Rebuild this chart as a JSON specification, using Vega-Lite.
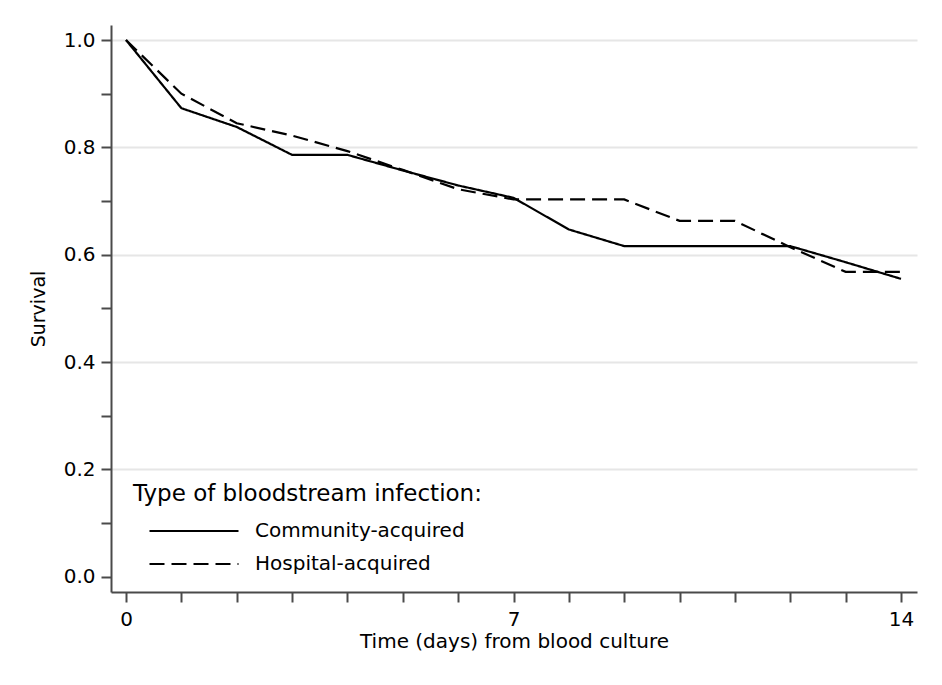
{
  "$schema": "https://vega.github.io/schema/vega-lite/v6.json",
  "width": 806,
  "height": 567,
  "autosize": {"type": "none"},
  "padding": {"left": 111, "top": 25, "right": 25, "bottom": 93},
  "background": "white",
  "config": {
    "view": {"stroke": null},
    "font": "DejaVu Sans",
    "axis": {
      "domainColor": "#4a4a4a",
      "domainWidth": 2,
      "tickColor": "#4a4a4a",
      "tickWidth": 2,
      "tickSize": 10,
      "labelFont": "DejaVu Sans",
      "labelFontSize": 20,
      "labelColor": "#000000",
      "titleFont": "DejaVu Sans",
      "titleFontWeight": "normal",
      "titleColor": "#000000",
      "labelFlush": false,
      "labelOverlap": false
    },
    "legend": {
      "titleFont": "DejaVu Sans",
      "labelFont": "DejaVu Sans"
    }
  },
  "data": {
    "values": [
      {"day": 0, "survival": 1.0, "type": "Community-acquired"},
      {"day": 1, "survival": 0.873, "type": "Community-acquired"},
      {"day": 2, "survival": 0.838, "type": "Community-acquired"},
      {"day": 3, "survival": 0.786, "type": "Community-acquired"},
      {"day": 4, "survival": 0.786, "type": "Community-acquired"},
      {"day": 5, "survival": 0.757, "type": "Community-acquired"},
      {"day": 6, "survival": 0.729, "type": "Community-acquired"},
      {"day": 7, "survival": 0.706, "type": "Community-acquired"},
      {"day": 8, "survival": 0.647, "type": "Community-acquired"},
      {"day": 9, "survival": 0.616, "type": "Community-acquired"},
      {"day": 10, "survival": 0.616, "type": "Community-acquired"},
      {"day": 11, "survival": 0.616, "type": "Community-acquired"},
      {"day": 12, "survival": 0.616, "type": "Community-acquired"},
      {"day": 13, "survival": 0.586, "type": "Community-acquired"},
      {"day": 14, "survival": 0.555, "type": "Community-acquired"},
      {"day": 0, "survival": 1.0, "type": "Hospital-acquired"},
      {"day": 1, "survival": 0.9, "type": "Hospital-acquired"},
      {"day": 2, "survival": 0.845, "type": "Hospital-acquired"},
      {"day": 3, "survival": 0.822, "type": "Hospital-acquired"},
      {"day": 4, "survival": 0.793, "type": "Hospital-acquired"},
      {"day": 5, "survival": 0.758, "type": "Hospital-acquired"},
      {"day": 6, "survival": 0.722, "type": "Hospital-acquired"},
      {"day": 7, "survival": 0.703, "type": "Hospital-acquired"},
      {"day": 8, "survival": 0.703, "type": "Hospital-acquired"},
      {"day": 9, "survival": 0.703, "type": "Hospital-acquired"},
      {"day": 10, "survival": 0.663, "type": "Hospital-acquired"},
      {"day": 11, "survival": 0.663, "type": "Hospital-acquired"},
      {"day": 12, "survival": 0.614, "type": "Hospital-acquired"},
      {"day": 13, "survival": 0.568, "type": "Hospital-acquired"},
      {"day": 14, "survival": 0.568, "type": "Hospital-acquired"}
    ]
  },
  "mark": {"type": "line", "color": "#000000", "strokeWidth": 2.2},
  "encoding": {
    "x": {
      "field": "day",
      "type": "quantitative",
      "scale": {"domain": [-0.271, 14.289], "nice": false, "zero": false},
      "axis": {
        "title": "Time (days) from blood culture",
        "titleFontSize": 20,
        "titlePadding": 2,
        "labelPadding": 7,
        "grid": false,
        "values": [0, 1, 2, 3, 4, 5, 6, 7, 8, 9, 10, 11, 12, 13, 14],
        "labelExpr": "datum.value == 0 || datum.value == 7 || datum.value == 14 ? datum.label : ''"
      }
    },
    "y": {
      "field": "survival",
      "type": "quantitative",
      "scale": {"domain": [-0.0285, 1.028], "nice": false, "zero": false},
      "axis": {
        "title": "Survival",
        "titleFontSize": 19,
        "titlePadding": 15,
        "labelPadding": 6,
        "values": [0, 0.1, 0.2, 0.3, 0.4, 0.5, 0.6, 0.7, 0.8, 0.9, 1.0],
        "format": ".1f",
        "labelExpr": "abs(datum.value * 5 - round(datum.value * 5)) < 0.01 ? datum.label : ''",
        "grid": true,
        "gridColor": "#e6e6e6",
        "gridWidth": 2,
        "gridOpacity": {"condition": {"test": "datum.value > 0.05 && abs(datum.value * 5 - round(datum.value * 5)) < 0.01", "value": 1}, "value": 0}
      }
    },
    "strokeDash": {
      "field": "type",
      "type": "nominal",
      "scale": {"domain": ["Community-acquired", "Hospital-acquired"], "range": [[1, 0], [15, 7]]},
      "legend": {
        "title": "Type of bloodstream infection:",
        "orient": "none",
        "legendX": 22,
        "legendY": 458,
        "padding": 0,
        "titleFontSize": 23,
        "titleFontWeight": "normal",
        "titleColor": "#000000",
        "titleBaseline": "top",
        "titlePadding": 15,
        "titleLimit": 600,
        "labelFontSize": 20,
        "labelColor": "#000000",
        "labelLimit": 600,
        "labelOffset": 15,
        "symbolOffset": 15,
        "symbolType": "stroke",
        "symbolSize": 7921,
        "symbolStrokeWidth": 2.2,
        "symbolStrokeColor": "#000000",
        "clipHeight": 20,
        "rowPadding": 13
      }
    }
  }
}
